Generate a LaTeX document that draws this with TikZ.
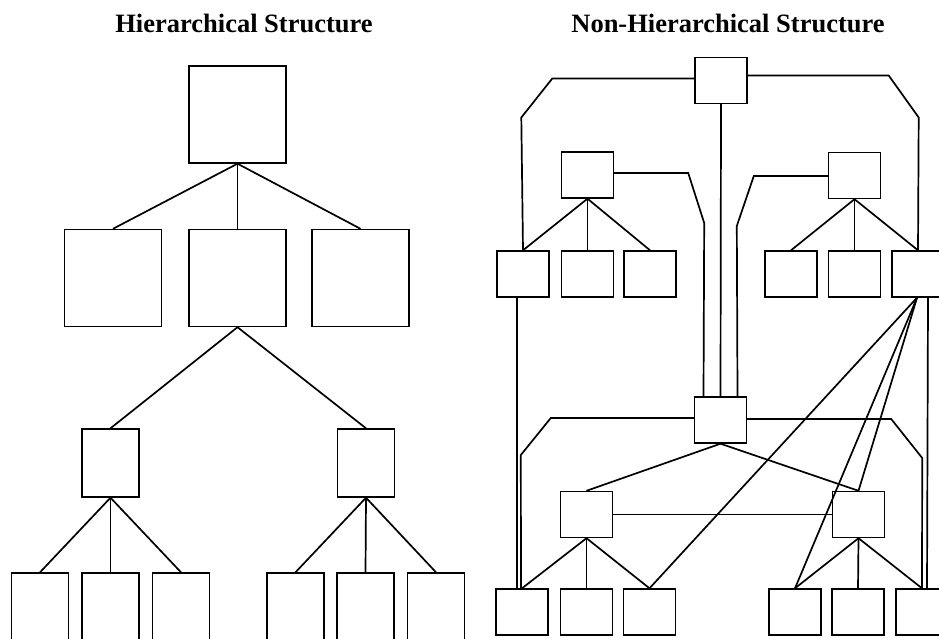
\documentclass[tikz,border=0pt]{standalone}
\usepackage{fontspec}
\setmainfont{Liberation Serif}
\begin{document}
\begin{tikzpicture}[
        x=1pt, y=-1pt,
        heading/.style={
            anchor=base,
            inner sep=0pt,
            font=\bfseries\fontsize{26.5}{30}\selectfont
        },
        bigbox/.style={
            rectangle,
            draw,
            line width=1.4pt,
            inner sep=0pt,
            minimum width=97pt,
            minimum height=97pt
        },
        midbox/.style={
            bigbox,
            minimum width=57pt,
            minimum height=68pt
        },
        leafbox/.style={
            bigbox,
            minimum width=57pt,
            minimum height=80pt
        },
        smallbox/.style={
            bigbox,
            minimum width=52pt,
            minimum height=46pt
        },
        link/.style={line width=1.7pt}
    ]

        \useasboundingbox (0,0) rectangle (939,639);
        \clip (0,0) rectangle (939,639);

        % hierarchical side
        \node[heading] (htitle) at (244,33) {Hierarchical Structure};
        \node[bigbox] (h0) at (237.5,114.5) {};
        \node[bigbox] (h1) at (113,278) {};
        \node[bigbox] (h2) at (237.5,278) {};
        \node[bigbox] (h3) at (360.5,278) {};
        \node[midbox] (hl) at (110.5,463) {};
        \node[midbox] (hr) at (366,463) {};
        \node[leafbox] (hl1) at (40,613) {};
        \node[leafbox] (hl2) at (110.5,613) {};
        \node[leafbox] (hl3) at (181,613) {};
        \node[leafbox] (hr1) at (295.5,613) {};
        \node[leafbox] (hr2) at (365.5,613) {};
        \node[leafbox] (hr3) at (436,613) {};

        \foreach \c in {h1,h2,h3}
            \draw[link] (h0.south) -- (\c.north);
        \draw[link] (h2.south) -- (hl.north);
        \draw[link] (h2.south) -- (hr.north);
        \foreach \c in {hl1,hl2,hl3}
            \draw[link] (hl.south) -- (\c.north);
        \foreach \c in {hr1,hr2,hr3}
            \draw[link] (hr.south) -- (\c.north);

        % non-hierarchical side
        \node[heading] (ntitle) at (728,33) {Non-Hierarchical Structure};
        \node[smallbox] (n0) at (721,80.5) {};
        \node[smallbox] (a0) at (587.5,175) {};
        \node[smallbox] (b0) at (854.5,175.5) {};
        \node[smallbox] (a1) at (523,274) {};
        \node[smallbox] (a2) at (587.5,274) {};
        \node[smallbox] (a3) at (650,274) {};
        \node[smallbox] (b1) at (791,274) {};
        \node[smallbox] (b2) at (854.5,274) {};
        \node[smallbox] (b3) at (918,274) {};
        \node[smallbox] (m0) at (720.5,420) {};
        \node[smallbox] (c0) at (586.5,514.5) {};
        \node[smallbox] (d0) at (858.5,514.5) {};
        \node[smallbox] (c1) at (522,612) {};
        \node[smallbox] (c2) at (586.5,612) {};
        \node[smallbox] (c3) at (649.5,612) {};
        \node[smallbox] (d1) at (795,612) {};
        \node[smallbox] (d2) at (858,612) {};
        \node[smallbox] (d3) at (922,612) {};

        \draw[link] (n0.south) -- (m0.north);
        \draw[link] ([yshift=2pt]n0.west) -- ++(-142,0) -- ++(-31,39) -- (a1.north);
        \draw[link] ([yshift=5pt]n0.east) -- ++(141,0) -- ++(30,42) -- (b3.north);
        \draw[link] ([yshift=2pt]a0.east) -- ++(74,0) -- ++(16,50) -- ([xshift=-17pt]m0.north);
        \draw[link] ([yshift=-0.5pt]b0.west) -- ++(-74,0) -- ++(-17,50) -- ([xshift=17pt]m0.north);
        \foreach \c in {a1,a2,a3}
            \draw[link] (a0.south) -- (\c.north);
        \foreach \c in {b1,b2,b3}
            \draw[link] (b0.south) -- (\c.north);

        \draw[link] ([xshift=-6pt]a1.south) -- ([xshift=-5pt]c1.north);
        \draw[link] ([xshift=10pt]b3.south) -- ([xshift=5pt]d3.north);
        \draw[link] ([yshift=2pt]m0.west) -- ++(-143,0) -- ++(-30,37) -- ([xshift=-1pt]c1.north);
        \draw[link] ([yshift=1pt]m0.east) -- ++(144,0) -- ++(31,39) -- (d3.north);

        \draw[link] (m0.south) -- (c0.north);
        \draw[link] (m0.south) -- (d0.north);
        \draw[link] (c0.east) -- (d0.west);
        \foreach \c in {c1,c2,c3}
            \draw[link] (c0.south) -- (\c.north);
        \foreach \c in {d1,d2,d3}
            \draw[link] (d0.south) -- (\c.north);

        \foreach \c in {c3,d1,d0}
            \draw[link] ([xshift=-1pt]b3.south) -- (\c.north);

    \end{tikzpicture}
\end{document}
